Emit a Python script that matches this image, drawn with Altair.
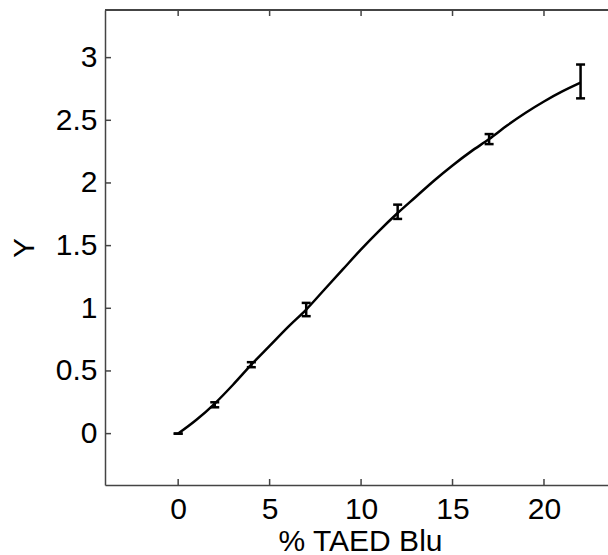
import altair as alt
import pandas as pd

# fitted curve
line_x = [0, 1, 2, 3, 4, 5, 6, 7, 8, 9, 10, 11, 12, 13, 14, 15, 16, 17, 18, 19, 20, 21, 22]
line_y = [0.0, 0.11, 0.24, 0.39, 0.55, 0.70, 0.85, 0.99, 1.15, 1.31, 1.47, 1.62, 1.76,
          1.89, 2.02, 2.14, 2.25, 2.35, 2.46, 2.56, 2.65, 2.73, 2.80]

# measured points with error bars
pt_x = [0, 2, 4, 7, 12, 17, 22]
pt_y = [0.0, 0.23, 0.55, 0.99, 1.77, 2.35, 2.81]
pt_err = [0.0, 0.02, 0.02, 0.053, 0.057, 0.04, 0.135]

x_ticks = [0, 5, 10, 15, 20]
y_ticks = [0, 0.5, 1, 1.5, 2, 2.5, 3]

W, H = 503, 475
FONT = "Liberation Sans"
FS = 30
AX = "#444444"

df_line = pd.DataFrame({"x": line_x, "y": line_y})
df_pts = pd.DataFrame({"x": pt_x, "y": pt_y, "err": pt_err})
df_pts["lo"] = df_pts["y"] - df_pts["err"]
df_pts["hi"] = df_pts["y"] + df_pts["err"]
df_xt = pd.DataFrame({"x": x_ticks})
df_yt = pd.DataFrame({"y": y_ticks})

xs = alt.Scale(domain=[-4, 23.5], nice=False, zero=False)
ys = alt.Scale(domain=[-0.41, 3.38], nice=False, zero=False)

x_axis = alt.Axis(values=x_ticks, grid=False, ticks=False, tickSize=0, domainColor=AX,
                  domainWidth=1.5, labelFont=FONT, labelFontSize=FS, labelColor="black",
                  labelPadding=9, format="~g", title="% TAED Blu", titleFont=FONT,
                  titleFontSize=FS, titleFontWeight="normal", titleColor="black",
                  titleX=255, titleY=65, titleBaseline="alphabetic", titleAlign="center")
y_axis = alt.Axis(values=y_ticks, grid=False, ticks=False, tickSize=0, domainColor=AX,
                  domainWidth=1.5, labelFont=FONT, labelFontSize=FS, labelColor="black",
                  labelPadding=8, format="~g", title="Y", titleFont=FONT, titleFontSize=FS,
                  titleFontWeight="normal", titleColor="black", titleX=-81, titleY=H / 2,
                  titleAngle=270, titleAlign="center", titleBaseline="middle")

line = alt.Chart(df_line).mark_line(color="black", strokeWidth=2.5, interpolate="monotone").encode(
    x=alt.X("x:Q", scale=xs, axis=x_axis),
    y=alt.Y("y:Q", scale=ys, axis=y_axis),
)

bars = alt.Chart(df_pts).mark_rule(color="black", strokeWidth=2.5).encode(
    x=alt.X("x:Q", scale=xs),
    y=alt.Y("lo:Q", scale=ys),
    y2="hi:Q",
)
cap_lo = alt.Chart(df_pts).mark_tick(color="black", opacity=1, orient="horizontal", size=9, thickness=2.5).encode(
    x=alt.X("x:Q", scale=xs),
    y=alt.Y("lo:Q", scale=ys),
)
cap_hi = alt.Chart(df_pts).mark_tick(color="black", opacity=1, orient="horizontal", size=9, thickness=2.5).encode(
    x=alt.X("x:Q", scale=xs),
    y=alt.Y("hi:Q", scale=ys),
)

# inward tick marks (MATLAB style)
xt_bottom = alt.Chart(df_xt).mark_rule(color=AX, strokeWidth=1.5).encode(
    x=alt.X("x:Q", scale=xs), y=alt.value(H), y2=alt.value(H - 6))
xt_top = alt.Chart(df_xt).mark_rule(color=AX, strokeWidth=1.5).encode(
    x=alt.X("x:Q", scale=xs), y=alt.value(0), y2=alt.value(6))
yt_left = alt.Chart(df_yt).mark_rule(color=AX, strokeWidth=1.5).encode(
    y=alt.Y("y:Q", scale=ys), x=alt.value(0), x2=alt.value(6))
top_border = alt.Chart(df_xt).mark_rule(color=AX, strokeWidth=1.5).encode(
    x=alt.value(0), x2=alt.value(W + 10), y=alt.value(0))

chart = alt.layer(line, bars, cap_lo, cap_hi, xt_bottom, xt_top, yt_left, top_border).properties(
    width=W, height=H, autosize="none",
    padding={"left": 105, "top": 10, "right": 0, "bottom": 70},
    background="white",
).configure_view(strokeWidth=0)

chart.save("out.html", embed_options={"renderer": "svg", "actions": False})
